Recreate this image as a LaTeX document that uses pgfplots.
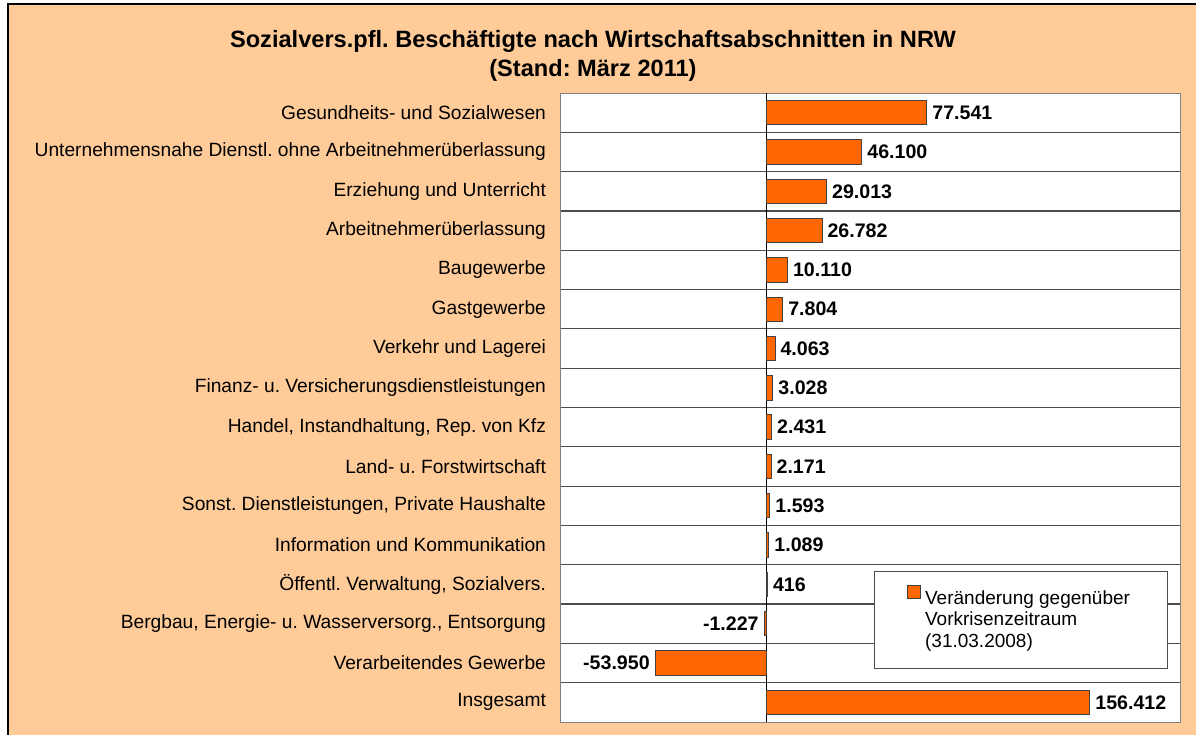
\documentclass[border=0pt]{standalone}
\usepackage{fontspec}
\setmainfont{Liberation Sans}
\usepackage{pgfplots}
\usepackage{pgfplotstable}
\pgfplotsset{compat=1.18}
\definecolor{peach}{HTML}{FFCC99}
\definecolor{barorange}{HTML}{FF6600}
\frenchspacing

% change vs. 31.03.2008, row 0 = top row
\pgfplotstableread[col sep=comma]{
y,x,lab
0,77541,77.541
1,46100,46.100
2,29013,29.013
3,26782,26.782
4,10110,10.110
5,7804,7.804
6,4063,4.063
7,3028,3.028
8,2431,2.431
9,2171,2.171
10,1593,1.593
11,1089,1.089
12,416,416
15,156412,156.412
}\posdata
\pgfplotstableread[col sep=comma]{
y,x,lab
13,-1227,-1.227
14,-53950,-53.950
}\negdata

\begin{document}
\begin{tikzpicture}
% background panel
\fill[white] (0,0) rectangle (598pt,367.5pt);
\fill[peach] (4pt,0) rectangle (598pt,365.5pt);
\draw[black, line width=0.8pt] (4pt,0) -- (4pt,365.5pt) -- (598pt,365.5pt);

\node[font=\bfseries\fontsize{11.8}{14.5}\selectfont, align=center] at (296.5pt,339.75pt)
  {Sozialvers.pfl. Beschäftigte nach Wirtschaftsabschnitten in NRW\\(Stand: März 2011)};

\begin{axis}[
    at={(280pt,6.5pt)}, anchor=south west,
    width=310pt, height=314.5pt, scale only axis,
    xbar, bar width=0.62, bar shift=0pt,
    xmin=-100000, xmax=200000,
    ymin=-0.5, ymax=15.5, y dir=reverse,
    axis background/.style={fill=white},
    axis line style={gray},
    xtick=\empty,
    extra x ticks={0}, extra x tick labels={},
    extra x tick style={grid=major, major grid style={black, line width=0.8pt}, major tick length=0pt},
    ytick={0,...,15},
    yticklabels={
      Gesundheits- und Sozialwesen,
      Unternehmensnahe Dienstl. ohne Arbeitnehmerüberlassung,
      Erziehung und Unterricht,
      Arbeitnehmerüberlassung,
      Baugewerbe,
      Gastgewerbe,
      Verkehr und Lagerei,
      Finanz- u. Versicherungsdienstleistungen,
      {Handel, Instandhaltung, Rep. von Kfz},
      Land- u. Forstwirtschaft,
      {Sonst. Dienstleistungen, Private Haushalte},
      Information und Kommunikation,
      {Öffentl. Verwaltung, Sozialvers.},
      {Bergbau, Energie- u. Wasserversorg., Entsorgung},
      Verarbeitendes Gewerbe,
      Insgesamt},
    major tick length=0pt,
    yticklabel style={font=\fontsize{9.6}{11}\selectfont, xshift=-3.5pt},
    minor ytick={0.5,1.5,...,14.5},
    minor grid style={black!70, line width=0.6pt},
    yminorgrids=true,
    minor tick length=0pt,
    nodes near coords,
    point meta=explicit symbolic,
    legend style={at={(0.506,0.240)}, anchor=north west, draw=black!70, fill=white,
      inner xsep=16.5pt, inner ysep=7pt, font=\fontsize{9.5}{10.8}\selectfont,
      cells={align=left, anchor=north west}},
    legend image code/.code={\draw[#1, fill=barorange, draw=black!75, line width=0.5pt] (0pt,-6.5pt) rectangle (6.5pt,0pt);},
    clip=false,
]
\addplot[fill=barorange, draw=black!75, line width=0.5pt,
    every node near coord/.append style={font=\bfseries\fontsize{9.8}{11}\selectfont, black, anchor=west, inner sep=2.5pt},
  ] table[x=x, y=y, meta=lab] {\posdata};
\addlegendentry{Veränderung gegenüber\\Vorkrisenzeitraum\\(31.03.2008)}
\addplot[fill=barorange, draw=black!75, line width=0.5pt, forget plot,
    every node near coord/.append style={font=\bfseries\fontsize{9.8}{11}\selectfont, black, anchor=east, inner sep=2.5pt},
  ] table[x=x, y=y, meta=lab] {\negdata};
\end{axis}
\pgfresetboundingbox
\useasboundingbox (0,0) rectangle (598pt,367.5pt);
\end{tikzpicture}
\end{document}
